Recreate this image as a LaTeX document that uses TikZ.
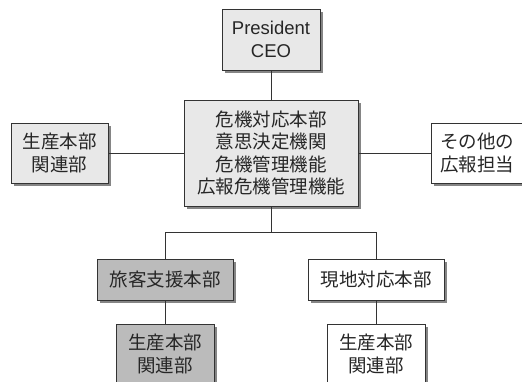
\documentclass[tikz,border=0pt]{standalone}
\usepackage{fontspec}
\setmainfont{Noto Sans CJK JP}
\newfontfamily\latfont{Liberation Sans}
\usetikzlibrary{shadows}
\definecolor{boxlight}{HTML}{E8E8E8}
\definecolor{boxdark}{HTML}{BBBBBB}
\definecolor{edgecol}{HTML}{333333}
\definecolor{shadowcol}{HTML}{858585}
\tikzset{
  orgbox/.style={draw=edgecol, line width=0.9pt, align=center, inner sep=0pt,
    font=\fontsize{18.5}{22.3}\selectfont, text=black!85,
    drop shadow={shadow xshift=2.6pt, shadow yshift=-2.6pt, fill=shadowcol, opacity=1}},
  light/.style={orgbox, fill=boxlight},
  dark/.style={orgbox, fill=boxdark},
  white/.style={orgbox, fill=white},
  conn/.style={draw=edgecol, line width=0.8pt}
}
\begin{document}
\begin{tikzpicture}[x=1pt,y=-1pt]
\useasboundingbox (0,0) rectangle (522,381);
\node[light, minimum width=98pt, minimum height=61pt] (ceo) at (271,39.5) {\latfont President\\\latfont CEO};
\node[light, minimum width=174pt, minimum height=106pt] (hq) at (271,153) {危機対応本部\\意思決定機関\\危機管理機能\\広報危機管理機能};
\node[light, minimum width=97pt, minimum height=60pt] (left) at (59.5,153) {生産本部\\関連部};
\node[white, minimum width=92pt, minimum height=60pt] (right) at (477,153) {その他の\\広報担当};
\node[dark, minimum width=136pt, minimum height=41pt] (pax) at (165,279.5) {旅客支援本部};
\node[white, minimum width=136pt, minimum height=41pt] (site) at (376,279.5) {現地対応本部};
\node[dark, minimum width=98pt, minimum height=60pt] (pl) at (165,354) {生産本部\\関連部};
\node[white, minimum width=98pt, minimum height=60pt] (pr) at (376,354) {生産本部\\関連部};
\coordinate (j) at (271,232);
\draw[conn] (ceo.south) -- (hq.north);
\draw[conn] (left.east) -- (hq.west);
\draw[conn] (hq.east) -- (right.west);
\draw[conn] (hq.south) -- (j);
\draw[conn] (j) -| (pax.north);
\draw[conn] (j) -| (site.north);
\draw[conn] (pax.south) -- (pl.north);
\draw[conn] (site.south) -- (pr.north);
\end{tikzpicture}
\end{document}
